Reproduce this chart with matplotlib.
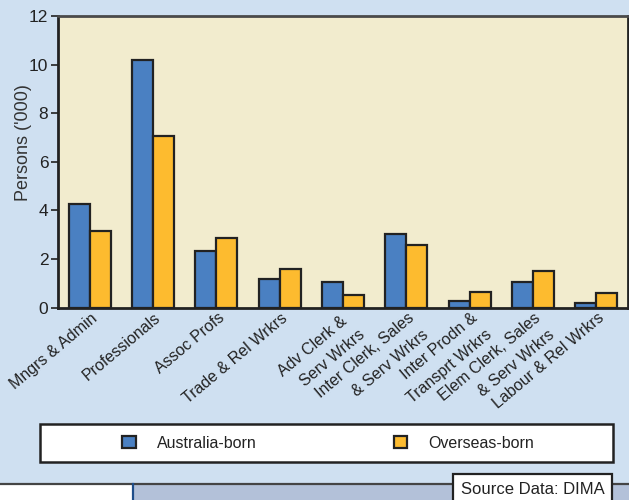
import matplotlib
matplotlib.use("Agg")
import matplotlib.pyplot as plt
import matplotlib.transforms as mtransforms
from matplotlib.patches import Rectangle
import numpy as np

plt.rcParams['font.family'] = ['Liberation Sans', 'DejaVu Sans']

categories = [
    "Mngrs & Admin", "Professionals", "Assoc Profs", "Trade & Rel Wrkrs",
    "Adv Clerk & \nServ Wrkrs", "Inter Clerk, Sales\n& Serv Wrkrs",
    "Inter Prodn &\nTransprt Wrkrs", "Elem Clerk, Sales\n& Serv Wrkrs",
    "Labour & Rel Wrkrs",
]
australia_born = [4.25, 10.2, 2.32, 1.18, 1.03, 3.01, 0.25, 1.05, 0.17]
overseas_born = [3.16, 7.08, 2.87, 1.57, 0.52, 2.56, 0.65, 1.50, 0.58]
y_ticks = [0, 2, 4, 6, 8, 10, 12]

BG = "#cfe0f1"
PANEL = "#f2ecce"
BLUE = "#4a80c2"
ORANGE = "#fdbb2f"
EDGE = "#222222"

fig = plt.figure(figsize=(6.29, 5.0), dpi=100, facecolor=BG)
ax = fig.add_axes([58 / 629, 1 - 307.5 / 500, 570 / 629, 291.5 / 500])
ax.set_facecolor(PANEL)

x = np.arange(len(categories))
w = 0.33
b1 = ax.bar(x - w / 2, australia_born, w, color=BLUE, edgecolor=EDGE,
            linewidth=1.6, label="Australia-born", zorder=3)
b2 = ax.bar(x + w / 2, overseas_born, w, color=ORANGE, edgecolor=EDGE,
            linewidth=1.6, label="Overseas-born", zorder=3)

ax.set_xlim(-0.5, len(categories) - 0.5)
ax.set_ylim(0, 12)
ax.set_yticks(y_ticks)
ax.tick_params(axis='y', labelsize=12.5, colors=EDGE, length=5, width=1.2,
               pad=2)
ax.set_ylabel("Persons ('000)", fontsize=13, color="#333333")
ax.yaxis.set_label_coords(-26 / 570, (307.5 - 143) / 291.5)

ax.set_xticks(x)
ax.set_xticklabels(categories, rotation=40, ha='right', va='top',
                   rotation_mode='anchor', fontsize=11.5, color="#222222",
                   multialignment='right', linespacing=1.55)
ax.tick_params(axis='x', length=0, pad=2)
shift = mtransforms.ScaledTranslation(1 / 100, 0, fig.dpi_scale_trans)
for lbl in ax.get_xticklabels():
    lbl.set_transform(lbl.get_transform() + shift)

for side in ['left', 'bottom', 'right']:
    ax.spines[side].set_linewidth(2.0)
    ax.spines[side].set_color(EDGE)
ax.spines['top'].set_linewidth(2.0)
ax.spines['top'].set_color("#4a4a4a")

# Legend panel
fig.patches.append(Rectangle((40 / 629, 1 - 462 / 500), 573 / 629, 38 / 500,
                             transform=fig.transFigure, facecolor='white',
                             edgecolor=EDGE, linewidth=1.8, zorder=1))
leg = fig.legend(handles=[b1, b2], loc='center',
                 bbox_to_anchor=(328 / 629, 1 - 443 / 500), ncol=2,
                 frameon=False, fontsize=11.5, handlelength=0.85,
                 handleheight=0.85, handletextpad=1.3, columnspacing=8.6)
for t in leg.get_texts():
    t.set_color("#222222")

# Footer strip
fig.patches.append(Rectangle((0, 0), 1, 16 / 500, transform=fig.transFigure,
                             facecolor='white', edgecolor='none', zorder=1))
fig.patches.append(Rectangle((133 / 629, 0), 496 / 629, 16 / 500,
                             transform=fig.transFigure, facecolor='#b3c1d9',
                             edgecolor='none', zorder=1))
fig.add_artist(plt.Line2D([0, 1], [16.5 / 500, 16.5 / 500],
                          transform=fig.transFigure, color='#444444',
                          linewidth=1.6, zorder=2))
fig.add_artist(plt.Line2D([132.5 / 629, 132.5 / 629], [0, 16 / 500],
                          transform=fig.transFigure, color='#1f4e8a',
                          linewidth=1.6, zorder=2))
fig.patches.append(Rectangle((453 / 629, -0.01), 159 / 629, 26 / 500 + 0.01,
                             transform=fig.transFigure, facecolor='white',
                             edgecolor=EDGE, linewidth=1.6, zorder=3))
fig.text(533 / 629, 1 - 489 / 500, "Source Data: DIMA", ha='center',
         va='center', fontsize=12, color="#222222", zorder=4)

fig.savefig("out.png", dpi=100, facecolor=BG)
